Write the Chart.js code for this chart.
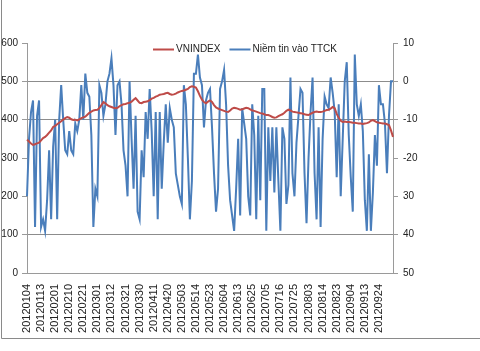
<!DOCTYPE html>
<html>
<head>
<meta charset="utf-8">
<script src="https://cdn.jsdelivr.net/npm/chart.js@4"></script>
<style>
  html, body { margin: 0; padding: 0; background: #fff; }
  #wrap { width: 480px; height: 351px; }
</style>
</head>
<body>
<div id="wrap"><canvas id="chart" width="480" height="351"></canvas></div>
<script>
// tick labels shown on the x axis (one every 7 sessions)
const shownDates = [
  "20120104", "20120113", "20120201", "20120210", "20120221", "20120301",
  "20120312", "20120321", "20120330", "20120411", "20120420", "20120503",
  "20120514", "20120523", "20120604", "20120613", "20120625", "20120705",
  "20120716", "20120725", "20120803", "20120814", "20120823", "20120904",
  "20120913", "20120924"
];
const labelStep = 7;

// VNINDEX (left axis)
const vnindex = [
  348, 343, 338, 334, 336, 338, 340, 346, 352, 355, 360, 366, 372, 381, 384, 388,
  392, 396, 400, 404, 407, 405, 401, 399, 400, 398, 401, 404, 406, 408, 413, 418,
  421, 424, 425, 426, 430, 438, 446, 443, 438, 435, 433, 431, 430, 431, 435, 438,
  440, 441, 443, 444, 447, 452, 456, 450, 444, 443, 446, 447, 448, 451, 455, 457,
  460, 462, 465, 466, 467, 469, 470, 467, 465, 466, 468, 471, 473, 475, 476, 478,
  480, 485, 487, 486, 484, 474, 462, 452, 446, 443, 447, 450, 446, 438, 432, 429,
  427, 425, 423, 421, 420, 424, 429, 431, 430, 428, 426, 427, 429, 431, 430, 427,
  424, 423, 421, 419, 417, 416, 414, 412, 412, 410, 407, 405, 406, 409, 412, 414,
  418, 423, 426, 424, 421, 420, 419, 418, 417, 416, 414, 413, 412, 415, 418, 420,
  421, 420, 420, 421, 423, 425, 426, 429, 433, 430, 415, 405, 397, 394, 395, 394,
  394, 393, 392, 392, 391, 390, 390, 389, 390, 391, 393, 397, 399, 396, 393, 392,
  391, 390, 390, 388, 386, 372, 355
];

// Niềm tin vào TTCK (right axis)
const niemTin = [
  -30, -15, -8, -5, -38, -9, -5, -38, -36, -39, -31, -18, -36, -17, -10, -36,
  -10, -1, -10, -18, -19, -13, -18, -19, -11, -13, -10, -1, -10, 2, -3, -4,
  -14, -38, -28, -30, -1, -3, -9, -6, 0, 2, 6, -1, -14, -1,
  0, -6, -18, -22, -30, 0, -15, -28, -9, -34, -36, -18, -25, -8, -15, -2,
  -13, -30, -8, -36, -8, -28, -16, -6, -16, -7, -10, -12, -24, -27, -30, -32,
  -1, -6, -20, -36, -26, 2, 2, 7, 1, -1, -12, -5, -3, -2,
  -12, -24, -34, -28, -2, 0, 3, -6, -22, -31, -35, -39, -28, -15, -35, -7,
  -11, -15, -30, -35, -6, -14, -36, -9, -31, -2, -2, -39, -12, -26, -12, -29,
  -12, -26, -39, -12, -15, -32, -27, 1, -24, -30, -16, -9, -2, -3,
  -24, -37, -20, -8, 1, -24, -36, -12, -38, -15, -4, -6, -7, 1, -3, -8,
  -25, -6, -30, -15, 0, 5, -14, -25, -34, 7, -6, -9, -6, -13, -31, -39,
  -19, -39, -29, -14, -22, -1, -6, -6, -11, -24, -9, 0, 0
];

const sessions = vnindex.map((_, i) => i);
const leftGrid = [100, 400, 500];

// white background + the grey chart frame on the left and bottom
const framePlugin = {
  id: "frame",
  beforeDraw(chart) {
    const c = chart.ctx;
    c.save();
    c.fillStyle = "#fff";
    c.fillRect(0, 0, chart.width, chart.height);
    c.strokeStyle = "#8a8a8a";
    c.lineWidth = 1;
    c.beginPath();
    c.moveTo(1.5, 0);
    c.lineTo(1.5, 338.5);
    c.lineTo(chart.width, 338.5);
    c.stroke();
    c.restore();
  }
};

// legend drawn inside the plot, like the original
const legendPlugin = {
  id: "insideLegend",
  afterDraw(chart) {
    const c = chart.ctx;
    c.save();
    c.font = "10px 'Liberation Sans', Arial, sans-serif";
    c.textBaseline = "middle";
    c.fillStyle = "#222";
    let x = 153;
    const y = 49.5;
    chart.data.datasets.forEach((ds) => {
      c.strokeStyle = ds.borderColor;
      c.lineWidth = 2;
      c.beginPath();
      c.moveTo(x, y);
      c.lineTo(x + 21, y);
      c.stroke();
      x += 23;
      c.fillText(ds.label, x, y);
      x += c.measureText(ds.label).width + 9;
    });
    c.restore();
  }
};

new Chart(document.getElementById("chart"), {
  type: "line",
  data: {
    labels: sessions,
    datasets: [
      {
        label: "VNINDEX",
        data: vnindex,
        yAxisID: "y",
        borderColor: "#be4b48",
        backgroundColor: "#be4b48",
        borderWidth: 2,
        pointRadius: 0,
        tension: 0
      },
      {
        label: "Niềm tin vào TTCK",
        data: niemTin,
        yAxisID: "y1",
        borderColor: "#4a7ebb",
        backgroundColor: "#4a7ebb",
        borderWidth: 2,
        pointRadius: 0,
        tension: 0
      }
    ]
  },
  options: {
    responsive: false,
    animation: false,
    layout: { padding: { top: 43, left: 0, right: 0, bottom: 0 } },
    plugins: {
      legend: { display: false },
      tooltip: { enabled: false }
    },
    scales: {
      x: {
        offset: false,
        afterFit: (s) => { s.height = 78; },
        grid: { display: false, drawTicks: true },
        border: { display: true, color: "#9a9a9a" },
        ticks: {
          autoSkip: false,
          minRotation: 90,
          maxRotation: 90,
          padding: 3,
          color: "#222",
          font: { family: "'Liberation Sans', Arial, sans-serif", size: 11 },
          callback: (v, i) => (i % labelStep === 0 ? shownDates[i / labelStep] : null)
        }
      },
      y: {
        position: "left",
        min: 0,
        max: 600,
        afterFit: (s) => { s.width = 27; },
        border: { display: true, color: "#9a9a9a" },
        grid: {
          color: (ctx) => (leftGrid.includes(ctx.tick.value) ? "#8c8c8c" : "rgba(0,0,0,0)"),
          tickColor: "#9a9a9a",
          tickLength: 5,
          lineWidth: 1
        },
        ticks: {
          stepSize: 100,
          padding: 4,
          color: "#222",
          font: { family: "'Liberation Sans', Arial, sans-serif", size: 10 }
        }
      },
      y1: {
        position: "right",
        min: -50,
        max: 10,
        afterFit: (s) => { s.width = 87; },
        border: { display: true, color: "#9a9a9a" },
        grid: { drawOnChartArea: false, tickColor: "#9a9a9a", tickLength: 5 },
        ticks: {
          stepSize: 10,
          padding: 5,
          color: "#222",
          font: { family: "'Liberation Sans', Arial, sans-serif", size: 10 },
          callback: (v) => (v >= -20 ? String(v) : String(-v))
        }
      }
    }
  },
  plugins: [framePlugin, legendPlugin]
});
</script>
</body>
</html>
